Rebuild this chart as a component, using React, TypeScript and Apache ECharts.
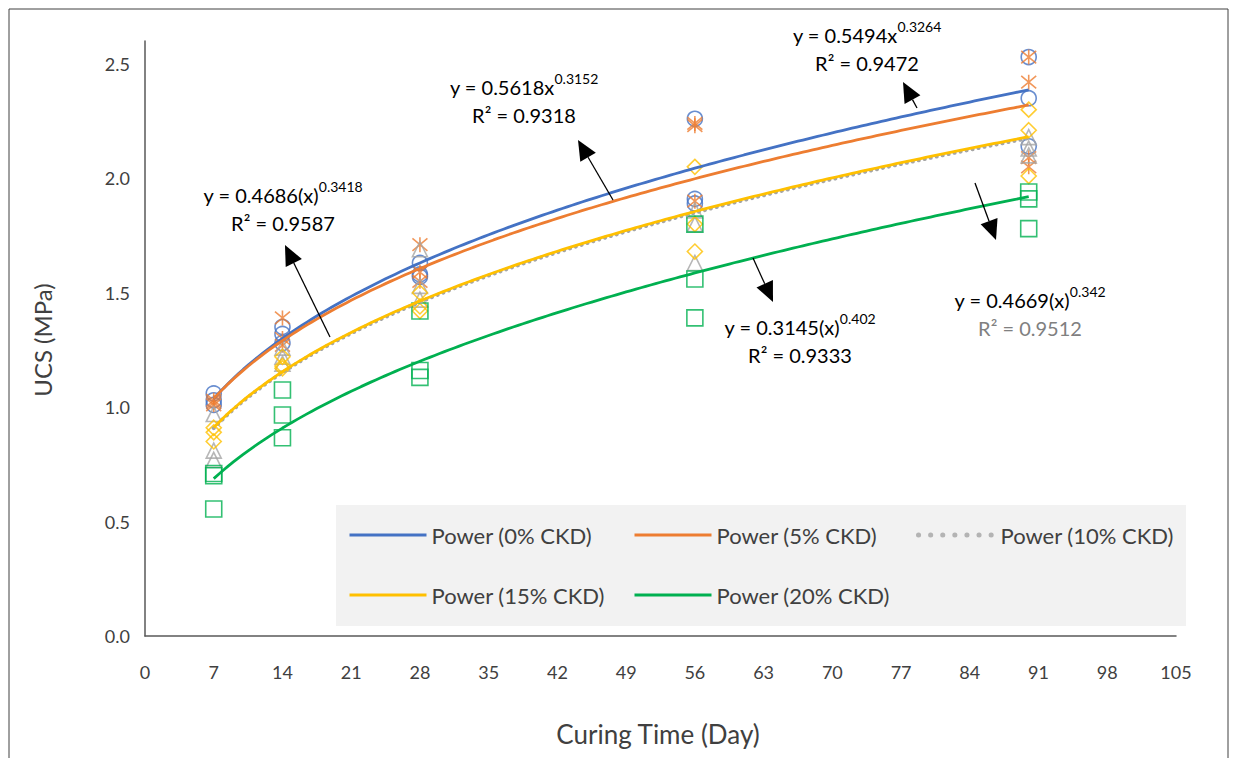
import React, { useEffect, useRef } from "react";
import * as echarts from "echarts";

// Curing times (days) and measured UCS (MPa) replicates per CKD content
const days = [7, 14, 28, 56, 90];
const ucs0 = [[1.06, 1.03, 1.01], [1.35, 1.32, 1.28], [1.63, 1.58, 1.57], [2.26, 1.91, 1.89], [2.53, 2.35, 2.14]];
const ucs5 = [[1.03, 1.02, 1.01], [1.39, 1.30, 1.27], [1.71, 1.59, 1.55], [2.24, 2.23, 1.90], [2.53, 2.42, 2.09, 2.05]];
const ucs10 = [[0.97, 0.81, 0.77], [1.26, 1.22, 1.19], [1.69, 1.53, 1.47], [1.86, 1.80, 1.63], [2.18, 2.13, 2.10]];
const ucs15 = [[0.91, 0.89, 0.85], [1.22, 1.18, 1.17], [1.50, 1.44, 1.42], [2.05, 1.80, 1.68], [2.30, 2.21, 2.01]];
const ucs20 = [[0.71, 0.70, 0.555], [1.075, 0.966, 0.866], [1.42, 1.16, 1.13], [1.80, 1.56, 1.39], [1.94, 1.91, 1.78]];

// Power trendlines y = a * x^b
const fitNames = ["Power (0% CKD)", "Power (5% CKD)", "Power (10% CKD)", "Power (15% CKD)", "Power (20% CKD)"];
const fitA = [0.5494, 0.5618, 0.4669, 0.4686, 0.3145];
const fitB = [0.3264, 0.3152, 0.342, 0.3418, 0.402];
const fitRange = [7, 90];

const xTicks = { min: 0, max: 105, interval: 7 };
const yTicks = { min: 0, max: 2.6, interval: 0.5 };

const FONT = "Lato, 'Open Sans', sans-serif";
const colors = ["#4472C4", "#ED7D31", "#A5A5A5", "#FFC000", "#00B050"];
const markers = [
  "circle",
  "path://M0 0L10 10M10 0L0 10M5 -1L5 11",
  "triangle",
  "diamond",
  "rect",
];
const measured = [ucs0, ucs5, ucs10, ucs15, ucs20];

function toPoints(vals: number[][]) {
  const pts: number[][] = [];
  days.forEach((d, i) => vals[i].forEach((v) => pts.push([d, v])));
  return pts;
}

function fitCurve(a: number, b: number) {
  const pts: number[][] = [];
  for (let x = fitRange[0]; x <= fitRange[1] + 1e-9; x += 0.5) pts.push([x, a * Math.pow(x, b)]);
  return pts;
}

function arrow(x1: number, y1: number, x2: number, y2: number) {
  const dx = x2 - x1;
  const dy = y2 - y1;
  const len = Math.hypot(dx, dy);
  const ux = dx / len;
  const uy = dy / len;
  const L = 20;
  const W = 9;
  const bx = x2 - ux * L;
  const by = y2 - uy * L;
  return [
    { type: "line", z: 20, shape: { x1, y1, x2: bx, y2: by }, style: { stroke: "#000", lineWidth: 1.3 } },
    {
      type: "polygon",
      z: 20,
      shape: { points: [[x2, y2], [bx - uy * W, by + ux * W], [bx + uy * W, by - ux * W]] },
      style: { fill: "#000" },
    },
  ];
}

function equation(x: number, y: number, base: string, sup: string, r2: string, r2Color = "#000") {
  return [
    {
      type: "text",
      z: 20,
      x,
      y,
      style: {
        text: `{b|${base}}{s|${sup}}`,
        align: "center",
        verticalAlign: "middle",
        rich: {
          b: { fontFamily: FONT, fontSize: 20, color: "#000", lineHeight: 26, verticalAlign: "bottom" },
          s: { fontFamily: FONT, fontSize: 14, color: "#000", lineHeight: 26, verticalAlign: "top" },
        },
      },
    },
    {
      type: "text",
      z: 20,
      x,
      y: y + 31,
      style: { text: r2, fontFamily: FONT, fontSize: 20, fill: r2Color, align: "center", verticalAlign: "middle" },
    },
  ];
}

export default function App() {
  const ref = useRef<HTMLDivElement>(null);

  useEffect(() => {
    if (!ref.current) return;
    const chart = echarts.init(ref.current, null, { renderer: "svg" });

    const lineSeries = fitNames.map((name, i) => ({
      name,
      type: "line",
      data: fitCurve(fitA[i], fitB[i]),
      symbol: "none",
      smooth: false,
      z: 4,
      lineStyle:
        i === 2
          ? { color: colors[i], width: 4, type: [0.1, 6], cap: "round" }
          : { color: colors[i], width: 2.8 },
      itemStyle: { color: colors[i] },
    }));

    const scatterSeries = measured.map((vals, i) => ({
      name: `UCS ${i}`,
      type: "scatter",
      data: toPoints(vals),
      symbol: markers[i],
      symbolSize: i === 4 ? 16 : 15,
      z: 3,
      itemStyle: { color: "rgba(0,0,0,0)", borderColor: colors[i], borderWidth: 1.6 },
    }));

    const legendPos = [
      [348, 524],
      [633, 524],
      [916, 524],
      [348, 584],
      [633, 584],
    ];

    const legends = fitNames.map((name, i) => ({
      data: [name],
      left: legendPos[i][0],
      top: legendPos[i][1],
      padding: 0,
      itemWidth: 77,
      itemHeight: 22,
      z: 10,
      selectedMode: false,
      itemStyle: { opacity: 0, borderWidth: 0, color: "rgba(0,0,0,0)" },
      lineStyle:
        i === 2
          ? { width: 5, type: [0.1, 12], cap: "round", color: "#B4B4B4" }
          : { width: 3 },
      textStyle: { fontFamily: FONT, fontSize: 22, color: "#404040" },
    }));

    chart.setOption({
      animation: false,
      backgroundColor: "#fff",
      textStyle: { fontFamily: FONT },
      grid: { left: 145, right: 60, top: 41, bottom: 122, containLabel: false },
      xAxis: {
        type: "value",
        min: xTicks.min,
        max: xTicks.max,
        interval: xTicks.interval,
        axisLine: { show: true, lineStyle: { color: "#595959", width: 1.5 } },
        axisTick: { show: false },
        splitLine: { show: false },
        axisLabel: { margin: 27, fontFamily: FONT, fontSize: 18, color: "#404040" },
      },
      yAxis: {
        type: "value",
        min: yTicks.min,
        max: yTicks.max,
        interval: yTicks.interval,
        axisLine: { show: true, lineStyle: { color: "#595959", width: 1.5 } },
        axisTick: { show: false },
        splitLine: { show: false },
        axisLabel: {
          margin: 15,
          fontFamily: FONT,
          fontSize: 18,
          color: "#404040",
          showMaxLabel: false,
          formatter: (v: number) => v.toFixed(1),
        },
      },
      legend: legends,
      graphic: [
        { type: "rect", z: -10, shape: { x: 9, y: 9, width: 1219, height: 770 }, style: { fill: "none", stroke: "#404040", lineWidth: 1 } },
        { type: "rect", z: 1, shape: { x: 336, y: 505, width: 850, height: 121 }, style: { fill: "#F2F2F2" } },
        {
          type: "text",
          x: 42,
          y: 340,
          rotation: Math.PI / 2,
          style: { text: "UCS (MPa)", fontFamily: FONT, fontSize: 24, fill: "#404040", align: "center", verticalAlign: "middle" },
        },
        {
          type: "text",
          x: 658,
          y: 734,
          style: { text: "Curing Time (Day)", fontFamily: FONT, fontSize: 26, fill: "#404040", align: "center", verticalAlign: "middle" },
        },
        ...equation(283, 192, "y = 0.4686(x)", "0.3418", "R² = 0.9587"),
        ...equation(524, 84, "y = 0.5618x", "0.3152", "R² = 0.9318"),
        ...equation(867, 32, "y = 0.5494x", "0.3264", "R² = 0.9472"),
        ...equation(800, 324, "y = 0.3145(x)", "0.402", "R² = 0.9333"),
        ...equation(1030, 297, "y = 0.4669(x)", "0.342", "R² = 0.9512", "#808080"),
        ...arrow(330, 337, 285, 245),
        ...arrow(613, 200, 578, 140),
        ...arrow(917, 108, 903, 82),
        ...arrow(753, 258, 773, 302),
        ...arrow(975, 183, 996, 240),
      ],
      series: [...scatterSeries, ...lineSeries],
    });

    return () => chart.dispose();
  }, []);

  return (
    <div
      ref={ref}
      style={{ position: "fixed", left: 0, top: 0, width: 1236, height: 758, background: "#fff" }}
    />
  );
}
